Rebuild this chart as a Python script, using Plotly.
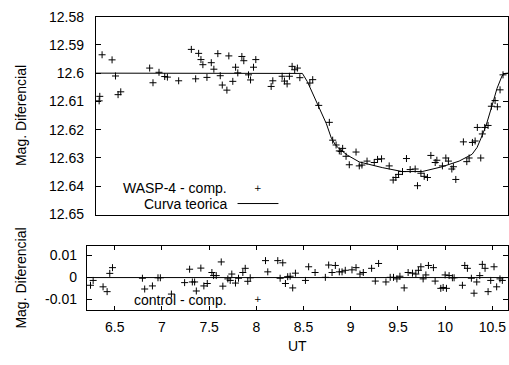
import plotly.graph_objects as go

# ---------------- data ----------------
ut_top = [6.247, 6.240, 6.272, 6.380, 6.417, 6.445, 6.474, 6.787, 6.823, 6.888,
          6.950, 6.979, 7.101, 7.238, 7.285, 7.317, 7.342, 7.363, 7.407, 7.454,
          7.482, 7.525, 7.551, 7.573, 7.623, 7.644, 7.687, 7.717, 7.741, 7.785,
          7.806, 7.857, 7.879, 7.911, 7.936, 8.102, 8.120, 8.221, 8.246, 8.275,
          8.300, 8.329, 8.357, 8.386, 8.413, 8.521, 8.552, 8.617, 8.732, 8.768,
          8.805, 8.840, 8.876, 8.859, 8.913, 8.948, 9.021, 9.056, 9.085, 9.140,
          9.218, 9.254, 9.297, 9.380, 9.423, 9.452, 9.481, 9.524, 9.567, 9.607,
          9.661, 9.686, 9.723, 9.759, 9.794, 9.831, 9.878, 9.896, 9.956, 9.993,
          10.021, 10.058, 10.075, 10.101, 10.183, 10.220, 10.245, 10.281, 10.310, 10.371,
          10.334, 10.388, 10.414, 10.450, 10.486, 10.551, 10.526, 10.580, 10.612]
mag_top = [12.6082, 12.6098, 12.5935, 12.5953, 12.6010, 12.6076, 12.6066, 12.5982, 12.6034, 12.5997,
           12.6012, 12.6014, 12.6027, 12.5916, 12.6020, 12.5930, 12.5952, 12.5970, 12.6015, 12.5963,
           12.5986, 12.5931, 12.6009, 12.6042, 12.6060, 12.5939, 12.6029, 12.5979, 12.5999, 12.5941,
           12.5956, 12.6006, 12.6024, 12.5979, 12.5952, 12.6047, 12.6027, 12.6011, 12.6028, 12.6038,
           12.6011, 12.5976, 12.5988, 12.5982, 12.6016, 12.6035, 12.6023, 12.6114, 12.6174, 12.6237,
           12.6254, 12.6275, 12.6266, 12.6277, 12.6294, 12.6324, 12.6279, 12.6328, 12.6325, 12.6311,
           12.6316, 12.6305, 12.6303, 12.6328, 12.6378, 12.6369, 12.6358, 12.6348, 12.6302, 12.6341,
           12.6339, 12.6398, 12.6354, 12.6365, 12.6369, 12.6291, 12.6316, 12.6308, 12.6328, 12.6300,
           12.6311, 12.6339, 12.6331, 12.6376, 12.6243, 12.6313, 12.6300, 12.6245, 12.6240, 12.6300,
           12.6192, 12.6215, 12.6192, 12.6185, 12.6117, 12.6119, 12.6097, 12.6059, 12.6006]

ut_model = [6.204, 8.408, 8.440, 8.494, 8.570, 8.613, 8.657, 8.700, 8.754, 8.797,
            8.840, 8.927, 9.056, 9.305, 9.521, 9.737, 9.953, 10.137, 10.277, 10.331,
            10.374, 10.428, 10.493, 10.547, 10.601, 10.634, 10.666]
mag_model = [12.6000, 12.6000, 12.6001, 12.6030, 12.6084, 12.6118, 12.6148, 12.6179, 12.6230, 12.6253,
             12.6268, 12.6290, 12.6314, 12.6334, 12.6348, 12.6348, 12.6331, 12.6311, 12.6287, 12.6263,
             12.6230, 12.6186, 12.6115, 12.6054, 12.6010, 12.6001, 12.6000]

ut_ctrl = [6.243, 6.271, 6.376, 6.419, 6.447, 6.476, 6.793, 6.817, 6.899, 6.958,
           6.983, 7.100, 7.240, 7.293, 7.322, 7.346, 7.364, 7.412, 7.444, 7.480,
           7.529, 7.547, 7.575, 7.628, 7.645, 7.698, 7.723, 7.740, 7.779, 7.811,
           7.857, 7.882, 7.909, 7.935, 8.097, 8.121, 8.227, 8.280, 8.252, 8.308,
           8.332, 8.358, 8.385, 8.414, 8.520, 8.554, 8.622, 8.731, 8.766, 8.802,
           8.837, 8.879, 8.908, 8.942, 9.013, 9.056, 9.098, 9.133, 9.221, 9.260,
           9.295, 9.373, 9.418, 9.453, 9.489, 9.521, 9.566, 9.608, 9.654, 9.690,
           9.717, 9.743, 9.767, 9.796, 9.823, 9.876, 9.894, 9.954, 9.979, 10.014,
           10.000, 10.042, 10.077, 10.095, 10.183, 10.208, 10.236, 10.278, 10.306, 10.335,
           10.367, 10.394, 10.423, 10.455, 10.483, 10.518, 10.546, 10.581, 10.606]
mag_ctrl = [-0.0035, -0.0013, -0.0042, -0.0064, 0.0019, 0.0045, -0.0003, -0.0052, -0.0038, -0.0001,
            -0.0001, -0.0075, -0.0023, 0.0038, -0.0020, -0.0020, -0.0061, 0.0043, -0.0038, -0.0027,
            0.0023, 0.0009, 0.0009, 0.0071, -0.0039, -0.0006, -0.0013, 0.0016, -0.0025, -0.0003,
            0.0023, 0.0042, -0.0017, -0.0001, 0.0077, 0.0026, 0.0077, 0.0067, -0.0003, -0.0027,
            0.0004, 0.0006, -0.0047, 0.0020, -0.0013, 0.0049, 0.0023, 0.0001, 0.0057, 0.0023,
            0.0055, 0.0026, 0.0026, 0.0033, 0.0035, 0.0045, 0.0016, 0.0023, 0.0042, -0.0016,
            0.0064, -0.0020, 0.0001, 0.0001, -0.0006, 0.0006, -0.0047, 0.0023, 0.0020, 0.0016,
            0.0033, 0.0049, -0.0006, 0.0012, 0.0055, 0.0045, -0.0016, -0.0049, -0.0045, -0.0049,
            0.0012, 0.0009, -0.0001, -0.0001, -0.0035, 0.0055, 0.0042, -0.0003, -0.0071, -0.0020,
            0.0009, 0.0060, 0.0042, -0.0064, -0.0013, 0.0049, -0.0042, -0.0006, -0.0013]

x_range = [6.204, 10.666]
top_range = [12.65, 12.58]
bot_range = [-0.0148, 0.0143]
x_ticks = [6.5, 7, 7.5, 8, 8.5, 9, 9.5, 10, 10.5]
x_labels = ["6.5", "7", "7.5", "8", "8.5", "9", "9.5", "10", "10.5"]
top_ticks = [12.58, 12.59, 12.60, 12.61, 12.62, 12.63, 12.64, 12.65]
top_labels = ["12.58", "12.59", "12.6", "12.61", "12.62", "12.63", "12.64", "12.65"]
bot_ticks = [-0.01, 0, 0.01]
bot_labels = ["-0.01", "0", "0.01"]

# ---------------- figure ----------------
W, H = 509, 365
FONT = "Liberation Sans, Arial, sans-serif"

def px_x(p):
    return p / W

def px_y(p):
    return (H - p) / H

mk = dict(symbol="cross-thin", size=5, color="black", line=dict(width=1, color="black"))

fig = go.Figure()
fig.add_trace(go.Scatter(x=ut_top, y=mag_top, mode="markers", marker=mk,
                         xaxis="x", yaxis="y", showlegend=False))
fig.add_trace(go.Scatter(x=ut_model, y=mag_model, mode="lines",
                         line=dict(color="black", width=1), xaxis="x", yaxis="y",
                         showlegend=False))
fig.add_trace(go.Scatter(x=ut_ctrl, y=mag_ctrl, mode="markers", marker=mk,
                         xaxis="x2", yaxis="y2", showlegend=False))
fig.add_trace(go.Scatter(x=x_range, y=[0, 0], mode="lines",
                         line=dict(color="black", width=1), xaxis="x2", yaxis="y2",
                         showlegend=False))

axcommon = dict(showgrid=False, zeroline=False, showline=True, linecolor="black",
                linewidth=1, tickcolor="black", tickwidth=1,
                tickfont=dict(family=FONT, size=14, color="black"))

fig.update_layout(
    width=W, height=H,
    margin=dict(l=0, r=0, t=0, b=0),
    paper_bgcolor="white", plot_bgcolor="white",
    font=dict(family=FONT, size=14, color="black"),
    xaxis=dict(domain=[px_x(96), 1.0], range=x_range, anchor="y",
               showticklabels=False, ticks="", mirror=True, **axcommon),
    yaxis=dict(domain=[px_y(216), px_y(9)], range=top_range, anchor="x",
               tickmode="array", tickvals=top_ticks, ticktext=top_labels,
               ticks="inside", ticklen=5, mirror="ticks", ticklabelstandoff=8,
               **axcommon),
    xaxis2=dict(domain=[px_x(87), 1.0], range=x_range, anchor="y2",
                tickmode="array", tickvals=x_ticks, ticktext=x_labels,
                ticks="inside", ticklen=4, mirror="ticks", ticklabelstandoff=4,
                **axcommon),
    yaxis2=dict(domain=[px_y(316), px_y(249)], range=bot_range, anchor="x2",
                tickmode="array", tickvals=bot_ticks, ticktext=bot_labels,
                ticks="inside", ticklen=5, mirror="ticks", ticklabelstandoff=6,
                **axcommon),
)

ann_font = dict(family=FONT, size=14, color="black")
annotations = [
    dict(text="Mag. Diferencial", x=px_x(21), y=px_y(112), textangle=-90),
    dict(text="Mag. Diferencial", x=px_x(21), y=px_y(282), textangle=-90),
    dict(text="UT", x=px_x(298), y=px_y(353)),
    dict(text="WASP-4 - comp.", x=px_x(229), y=px_y(188), xanchor="right"),
    dict(text="Curva teorica", x=px_x(229), y=px_y(205), xanchor="right"),
    dict(text="control - comp.", x=px_x(229), y=px_y(305), xanchor="right"),
    dict(text="+", x=px_x(259), y=px_y(188.5), font=dict(family="DejaVu Sans", size=9, color="black")),
    dict(text="+", x=px_x(259), y=px_y(304.5), font=dict(family="DejaVu Sans", size=9, color="black")),
]
for a in annotations:
    base = dict(xref="paper", yref="paper", showarrow=False, font=ann_font,
                xanchor="center", yanchor="middle")
    base.update(a)
    fig.add_annotation(**base)

fig.add_shape(type="line", xref="paper", yref="paper",
              x0=px_x(238), x1=px_x(279), y0=px_y(204.5), y1=px_y(204.5),
              line=dict(color="black", width=1))

fig.write_html("out.html")
